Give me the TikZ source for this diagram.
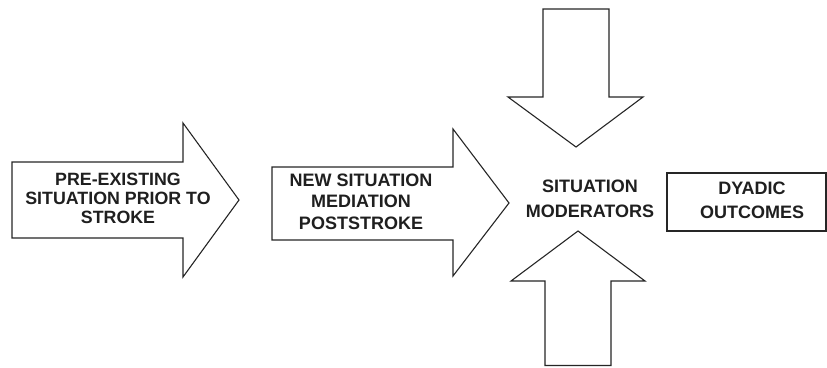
\documentclass[tikz,border=0pt]{standalone}
\usepackage{fontspec}
\setmainfont{Liberation Sans}
\begin{document}
\begin{tikzpicture}[x=1pt,y=-1pt,
  shapeline/.style={draw=black!85, line width=1.1pt, line join=miter, fill=white},
  lbl/.style={align=center, text=black!88, inner sep=0pt}]
\useasboundingbox (0,0) rectangle (827,367);
% arrow 1
\draw[shapeline] (12,162) -- (183,162) -- (183,123) -- (239,200) -- (183,277) -- (183,238) -- (12,238) -- cycle;
% arrow 2
\draw[shapeline] (272,167) -- (453,167) -- (453,129) -- (509,203) -- (453,276) -- (453,240) -- (272,240) -- cycle;
% down arrow
\draw[shapeline] (543,9) -- (609,9) -- (609,97) -- (643,97) -- (576,147) -- (508,97) -- (543,97) -- cycle;
% up arrow
\draw[shapeline] (578,231) -- (645,281) -- (611,281) -- (611,365.5) -- (545,365.5) -- (545,281) -- (511,281) -- cycle;
% outcomes box
\draw[shapeline] (667,173) rectangle (826,231);
\node[lbl, font=\bfseries\fontsize{17.8}{18.7}\selectfont] (pre) at (118,198.5) {PRE-EXISTING\\SITUATION PRIOR TO\\STROKE};
\node[lbl, font=\bfseries\fontsize{18}{21.5}\selectfont] (new) at (361,201.5) {NEW SITUATION\\MEDIATION\\POSTSTROKE};
\node[lbl, font=\bfseries\fontsize{18}{25}\selectfont] (mod) at (590,199) {SITUATION\\MODERATORS};
\node[lbl, font=\bfseries\fontsize{18}{24}\selectfont] (out) at (752,200) {DYADIC\\OUTCOMES};
\end{tikzpicture}
\end{document}
